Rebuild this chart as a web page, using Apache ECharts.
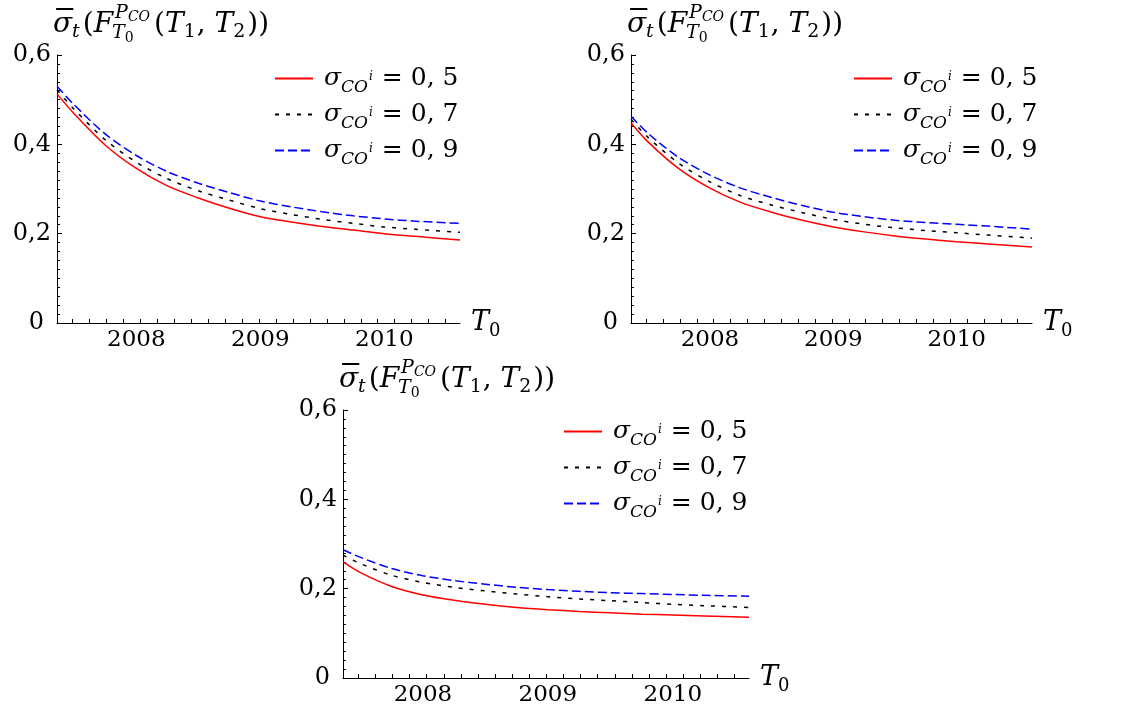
<!DOCTYPE html>
<html>
<head>
<meta charset="utf-8">
<script src="https://cdn.jsdelivr.net/npm/echarts@6/dist/echarts.min.js"></script>
<style>
  html, body { margin: 0; padding: 0; background: #fff; }
  #main { width: 1125px; height: 713px; }
</style>
</head>
<body>
<div id="main"></div>
<script>
// Maturity dates T0 (in years) at which the implied volatility is evaluated
const T0 = [2007.36, 2007.5, 2007.75, 2008, 2008.25, 2008.5, 2008.75, 2009, 2009.25, 2009.5, 2009.75, 2010, 2010.25, 2010.61];

// Upper-left panel
const panelA_sigma05 = [0.513, 0.468, 0.398, 0.346, 0.307, 0.280, 0.257, 0.238, 0.226, 0.216, 0.208, 0.200, 0.194, 0.186];
const panelA_sigma07 = [0.522, 0.478, 0.410, 0.360, 0.323, 0.296, 0.275, 0.256, 0.243, 0.232, 0.223, 0.215, 0.210, 0.203];
const panelA_sigma09 = [0.530, 0.488, 0.423, 0.375, 0.339, 0.313, 0.292, 0.273, 0.260, 0.249, 0.240, 0.233, 0.228, 0.223];

// Upper-right panel
const panelB_sigma05 = [0.448, 0.405, 0.345, 0.302, 0.270, 0.248, 0.230, 0.215, 0.204, 0.195, 0.188, 0.182, 0.177, 0.170];
const panelB_sigma07 = [0.456, 0.415, 0.357, 0.316, 0.285, 0.264, 0.247, 0.232, 0.221, 0.213, 0.207, 0.202, 0.197, 0.190];
const panelB_sigma09 = [0.463, 0.424, 0.370, 0.331, 0.302, 0.281, 0.263, 0.248, 0.238, 0.230, 0.225, 0.221, 0.217, 0.210];

// Lower panel
const panelC_sigma05 = [0.260, 0.236, 0.205, 0.186, 0.174, 0.165, 0.158, 0.153, 0.149, 0.146, 0.143, 0.141, 0.139, 0.136];
const panelC_sigma07 = [0.275, 0.256, 0.230, 0.214, 0.203, 0.195, 0.188, 0.182, 0.177, 0.173, 0.169, 0.165, 0.162, 0.158];
const panelC_sigma09 = [0.287, 0.270, 0.245, 0.229, 0.218, 0.210, 0.203, 0.198, 0.194, 0.191, 0.189, 0.187, 0.185, 0.183];

// Legend values of sigma_{CO^i}
const sigmaLabels = ['0, 5', '0, 7', '0, 9'];
// Tick labels
const yearLabels = [2008, 2009, 2010];
const yTickLabels = ['0', '0,2', '0,4', '0,6'];

const X_MIN = 2007.36, X_MAX = 2010.61;
const FONT = 'DejaVu Serif';
const COLORS = ['#ff0000', '#000000', '#0000ff'];
const DASHES = ['solid', [4, 7], [9, 4]];

// minor ticks on the time axis, one every 50 days
const tickStep = 50 / 365.25;
const xTicks = [];
for (let v = 2008.03 - 4 * tickStep; v < X_MAX; v += tickStep) {
  if (v > X_MIN + 0.02) xTicks.push(+v.toFixed(4));
}

const panels = [
  { left: 57,  top: 55,  width: 403, height: 268, legendLeft: 274, legendTop: 61,
    series: [panelA_sigma05, panelA_sigma07, panelA_sigma09] },
  { left: 631, top: 55,  width: 401, height: 268, legendLeft: 853, legendTop: 61,
    series: [panelB_sigma05, panelB_sigma07, panelB_sigma09] },
  { left: 343, top: 410, width: 406, height: 268, legendLeft: 563, legendTop: 414,
    series: [panelC_sigma05, panelC_sigma07, panelC_sigma09] }
];

const seriesNames = sigmaLabels.map(s => 'sigma_CO^i = ' + s);

// text measurement for the hand-set formula in each panel header
const measureCtx = document.createElement('canvas').getContext('2d');
function textWidth(s, size, italic) {
  measureCtx.font = (italic ? 'italic ' : '') + size + 'px ' + FONT;
  return measureCtx.measureText(s).width;
}

// σ̄_t(F^{P_CO}_{T_0}(T_1, T_2))
const headerPieces = [
  { s: '\u00AF', z: 28, keep: true, ox: -3, dy: -3, sx: 2.1 },
  { s: 'σ', z: 28, it: true },
  { s: 't', z: 19, it: true, dy: 5 },
  { s: '(', z: 28, kx: 3 },
  { s: 'F', z: 28, it: true },
  { s: 'P', z: 19, it: true, dy: -14, kx: 2, mark: true },
  { s: 'CO', z: 14, it: true, dy: -11 },
  { s: 'T', z: 19, it: true, dy: 6, fromMark: true, kx: -3 },
  { s: '0', z: 14, dy: 10 },
  { s: '(', z: 28, fromMax: true, kx: 4 },
  { s: 'T', z: 28, it: true },
  { s: '1', z: 19, dy: 5 },
  { s: ', ', z: 28, kx: 1 },
  { s: 'T', z: 28, it: true },
  { s: '2', z: 19, dy: 5 },
  { s: '))', z: 28, kx: 2 }
];

function layoutFormula(pieces, x0, base) {
  let x = x0, mark = x0, maxX = x0;
  const out = [];
  pieces.forEach(p => {
    if (p.fromMark) x = mark;
    if (p.fromMax) x = maxX;
    x += p.kx || 0;
    if (p.mark) mark = x;
    const el = {
      type: 'text',
      x: x + (p.ox || 0),
      y: base + (p.dy || 0) - 0.3 * p.z,
      silent: true,
      style: {
        text: p.s, fontSize: p.z, fontFamily: FONT,
        fontStyle: p.it ? 'italic' : 'normal',
        fill: '#000', align: 'left', verticalAlign: 'middle'
      }
    };
    if (p.sx) el.scaleX = p.sx;
    out.push(el);
    if (!p.keep) {
      x += textWidth(p.s, p.z, p.it);
      maxX = Math.max(maxX, x);
    }
  });
  return out;
}

const legendRich = {
  sg: { fontFamily: FONT, fontStyle: 'italic', fontSize: 25, lineHeight: 30, color: '#000', padding: [0, 0, 0, 6] },
  co: { fontFamily: FONT, fontStyle: 'italic', fontSize: 17, lineHeight: 30, color: '#000', padding: [18, 0, 0, 0] },
  ii: { fontFamily: FONT, fontStyle: 'italic', fontSize: 12, lineHeight: 30, color: '#000', padding: [0, 0, 4, 1] },
  eq: { fontFamily: FONT, fontSize: 25, lineHeight: 30, color: '#000', padding: [0, 8, 0, 9] },
  num: { fontFamily: FONT, fontSize: 25, lineHeight: 30, color: '#000' }
};

const option = {
  animation: false,
  backgroundColor: '#fff',
  grid: [], xAxis: [], yAxis: [], series: [], legend: [], graphic: []
};

panels.forEach((p, i) => {
  option.grid.push({ left: p.left, top: p.top, width: p.width, height: p.height,
    containLabel: false, outerBoundsMode: 'none' });

  option.xAxis.push({
    type: 'value', gridIndex: i, min: X_MIN, max: X_MAX,
    axisLine: { show: true, onZero: false, lineStyle: { color: '#000', width: 1 } },
    axisTick: { show: true, inside: true, length: 4, customValues: xTicks, lineStyle: { color: '#000', width: 1 } },
    axisLabel: { customValues: yearLabels, formatter: v => String(v), margin: 6,
      fontFamily: FONT, fontSize: 23, color: '#000' },
    splitLine: { show: false },
    name: '{t|T}{s|0}', nameLocation: 'end', nameGap: 11,
    nameTextStyle: {
      rich: {
        t: { fontFamily: FONT, fontStyle: 'italic', fontSize: 27, color: '#000', lineHeight: 32 },
        s: { fontFamily: FONT, fontSize: 18, color: '#000', lineHeight: 32, padding: [16, 0, 0, 0] }
      }
    }
  });

  option.yAxis.push({
    type: 'value', gridIndex: i, min: 0, max: 0.6, interval: 0.2,
    axisLine: { show: true, lineStyle: { color: '#000', width: 1 } },
    axisTick: { show: true, inside: true, length: 5, lineStyle: { color: '#000', width: 1 } },
    minorTick: { show: true, splitNumber: 10, length: 3, lineStyle: { color: '#000', width: 1 } },
    axisLabel: {
      margin: 6, fontFamily: FONT, fontSize: 24, color: '#000',
      formatter: v => {
        const k = Math.round(v / 0.2);
        return k === 0 ? '{z|' + yTickLabels[0] + '}' : yTickLabels[k];
      },
      rich: { z: { fontFamily: FONT, fontSize: 24, color: '#000', padding: [0, 7, 0, 0] } }
    },
    splitLine: { show: false }, minorSplitLine: { show: false }
  });

  p.series.forEach((vals, k) => {
    option.series.push({
      type: 'line', name: seriesNames[k], xAxisIndex: i, yAxisIndex: i,
      data: T0.map((t, j) => [t, vals[j]]),
      smooth: 0.3, showSymbol: false, symbol: 'none',
      lineStyle: { color: COLORS[k], width: 1.5, type: DASHES[k] },
      itemStyle: { color: COLORS[k] },
      z: 3 - k
    });
  });

  option.legend.push({
    orient: 'vertical', left: p.legendLeft, top: p.legendTop, padding: 0,
    itemWidth: 38, itemHeight: 14, itemGap: 1, selectedMode: false,
    itemStyle: { opacity: 0 },
    data: seriesNames,
    formatter: name => {
      const k = seriesNames.indexOf(name);
      return '{sg|σ}{co|CO}{ii|i}{eq|=}{num|' + sigmaLabels[k] + '}';
    },
    textStyle: { rich: legendRich }
  });

  option.graphic.push(...layoutFormula(headerPieces, p.left - 4, p.top - 22));
});

const chart = echarts.init(document.getElementById('main'), null, { renderer: 'canvas' });
chart.setOption(option);
</script>
</body>
</html>
